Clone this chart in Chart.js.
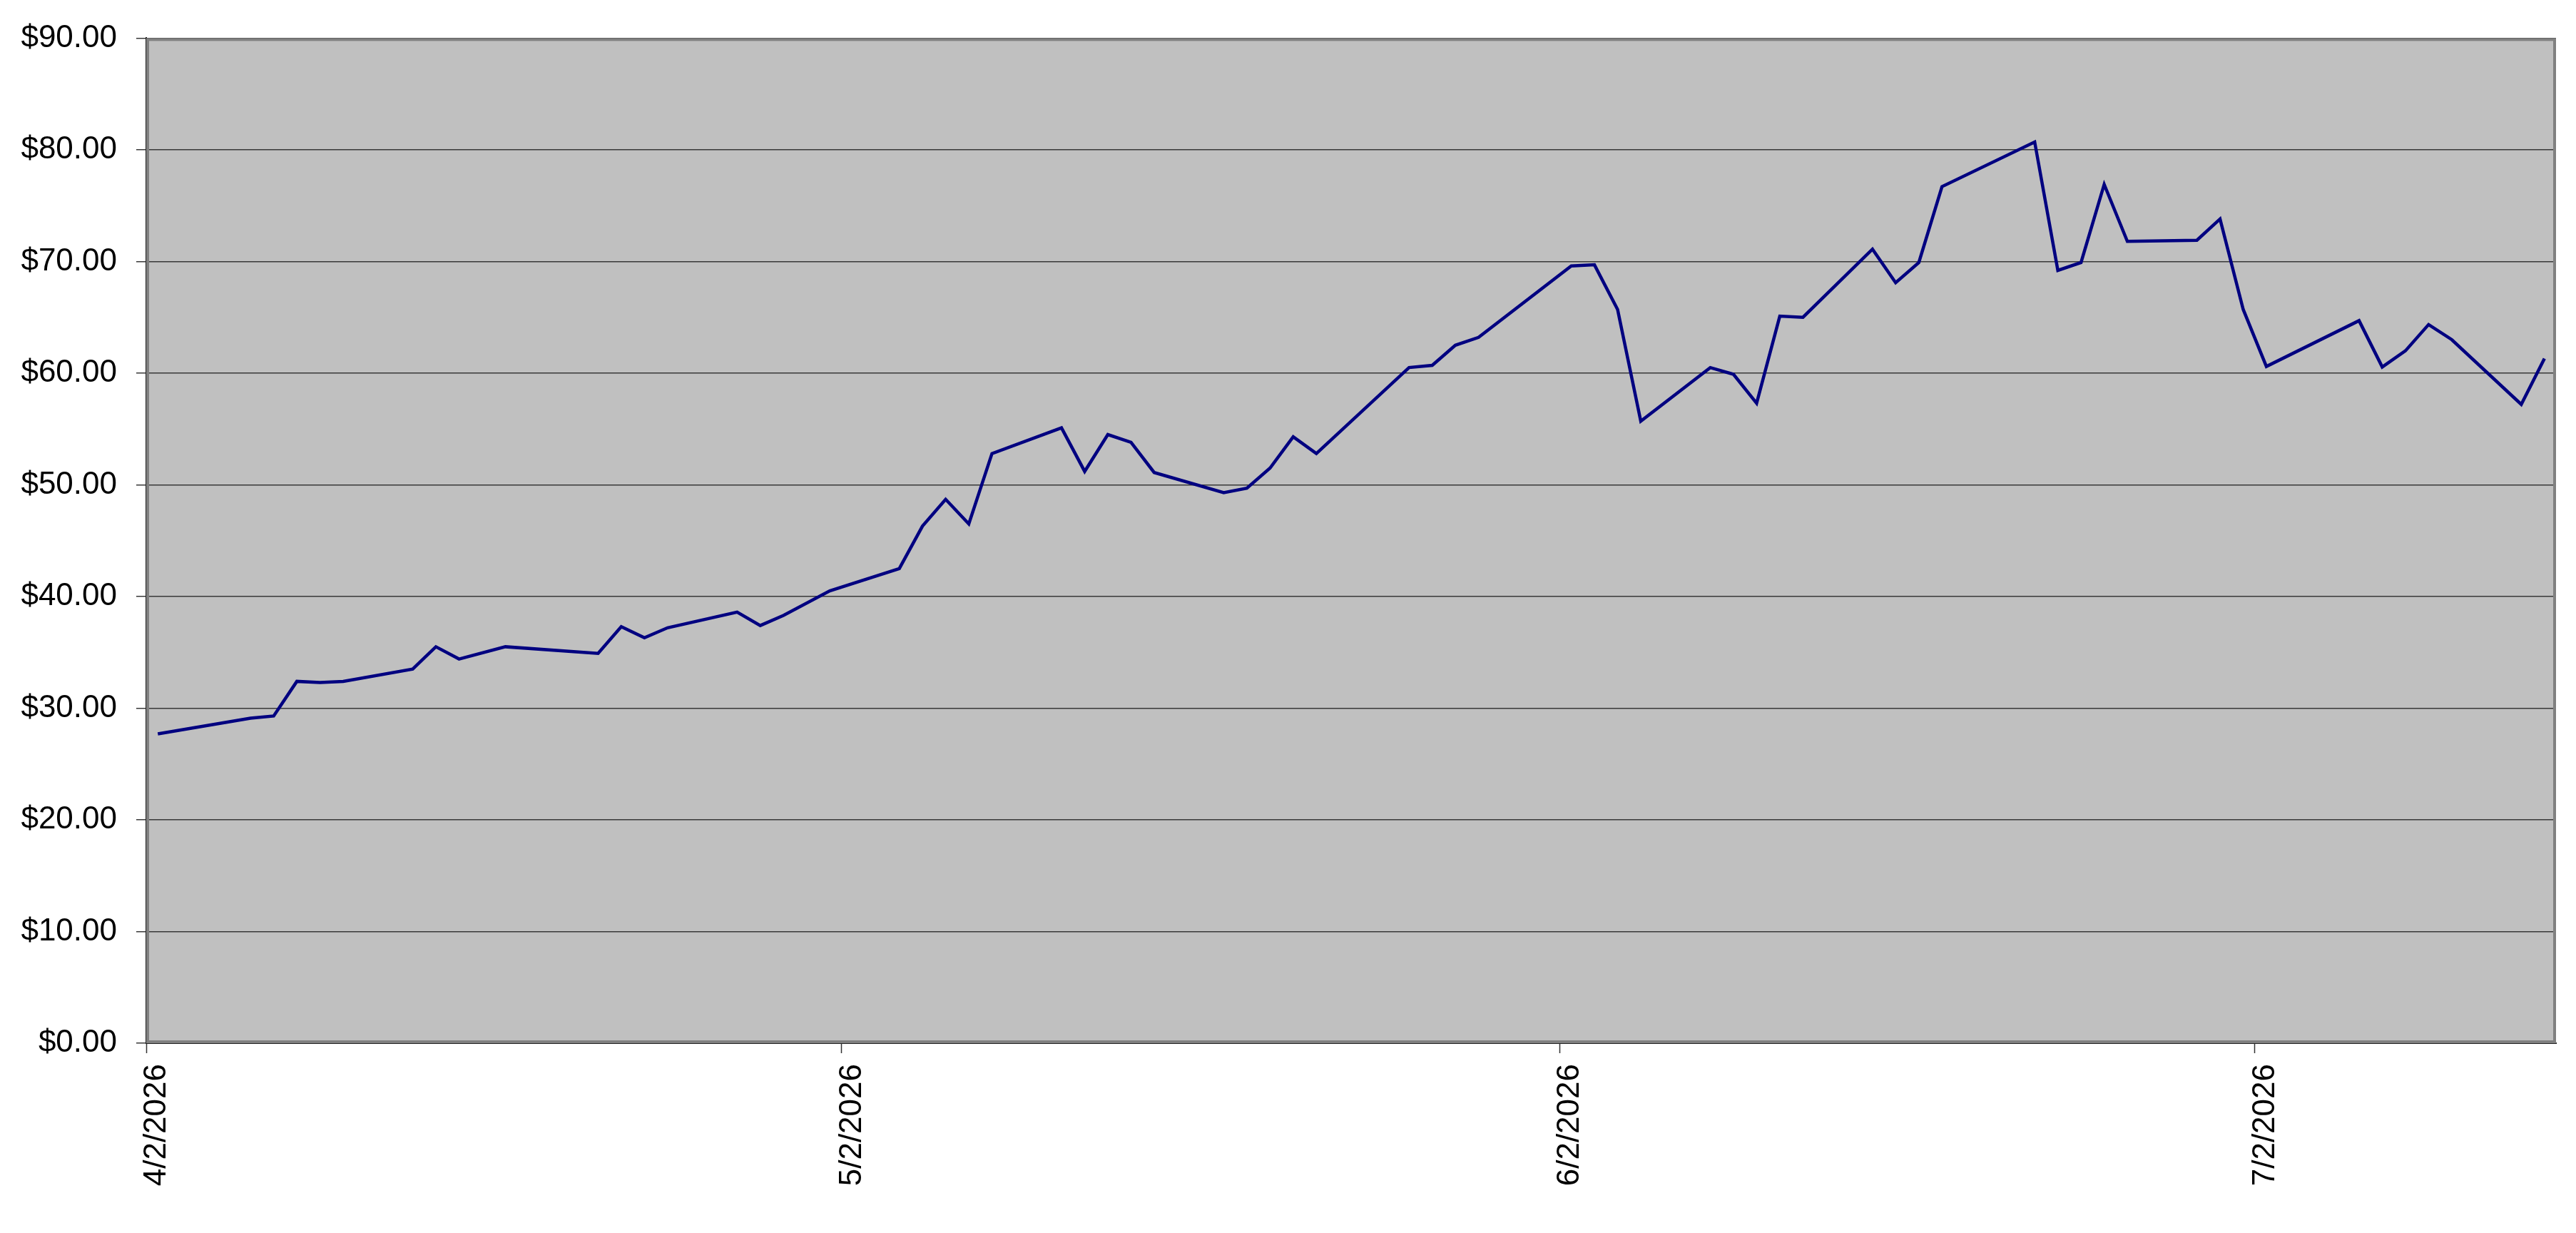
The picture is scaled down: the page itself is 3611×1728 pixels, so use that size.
<!DOCTYPE html>
<html>
<head>
<meta charset="utf-8">
<title>Price chart</title>
<script src="https://cdn.jsdelivr.net/npm/chart.js@4/dist/chart.umd.min.js"></script>
<style>
    html, body { margin: 0; padding: 0; background: #ffffff; }
    #wrap { width: 3611px; height: 1728px; }
</style>
</head>
<body>
<div id="wrap"><canvas id="priceChart" width="3611" height="1728"></canvas></div>
<script>
var myChart;

// trading days and closing prices
var dates = [
    '2026-04-02', '2026-04-06', '2026-04-07', '2026-04-08', '2026-04-09', '2026-04-10',
    '2026-04-13', '2026-04-14', '2026-04-15', '2026-04-17',
    '2026-04-21', '2026-04-22', '2026-04-23', '2026-04-24',
    '2026-04-27', '2026-04-28', '2026-04-29', '2026-05-01',
    '2026-05-04', '2026-05-05', '2026-05-06', '2026-05-07', '2026-05-08',
    '2026-05-11', '2026-05-12', '2026-05-13', '2026-05-14', '2026-05-15',
    '2026-05-18', '2026-05-19', '2026-05-20', '2026-05-21', '2026-05-22',
    '2026-05-26', '2026-05-27', '2026-05-28', '2026-05-29',
    '2026-06-02', '2026-06-03', '2026-06-04', '2026-06-05',
    '2026-06-08', '2026-06-09', '2026-06-10', '2026-06-11', '2026-06-12',
    '2026-06-15', '2026-06-16', '2026-06-17', '2026-06-18',
    '2026-06-22', '2026-06-23', '2026-06-24', '2026-06-25', '2026-06-26',
    '2026-06-29', '2026-06-30', '2026-07-01', '2026-07-02',
    '2026-07-06', '2026-07-07', '2026-07-08', '2026-07-09', '2026-07-10',
    '2026-07-13', '2026-07-14'
];
var prices = [
    27.7, 29.1, 29.3, 32.4, 32.3, 32.4,
    33.5, 35.5, 34.4, 35.5,
    34.9, 37.3, 36.3, 37.2,
    38.6, 37.4, 38.3, 40.5,
    42.5, 46.3, 48.7, 46.5, 52.8,
    55.1, 51.2, 54.5, 53.8, 51.1,
    49.3, 49.7, 51.5, 54.3, 52.8,
    60.5, 60.7, 62.5, 63.2,
    69.6, 69.7, 65.7, 55.7,
    60.5, 59.9, 57.3, 65.1, 65.0,
    71.1, 68.1, 69.9, 76.7,
    80.7, 69.2, 69.9, 76.9, 71.8,
    71.9, 73.8, 65.7, 60.6,
    64.7, 60.55, 62.0, 64.35, 63.0,
    57.2, 61.3
];

// date axis: start, end and labelled ticks
var axisStart = '2026-04-02';
var axisEnd = '2026-07-15';
var tickDates = ['2026-04-02', '2026-05-02', '2026-06-02', '2026-07-02'];
var tickLabels = ['4/2/2026', '5/2/2026', '6/2/2026', '7/2/2026'];

// price axis
var priceMin = 0;
var priceMax = 90;
var priceStep = 10;

function dayNumber(s) {
    var p = s.split('-');
    var start = axisStart.split('-');
    var a = Date.UTC(+p[0], +p[1] - 1, +p[2]);
    var b = Date.UTC(+start[0], +start[1] - 1, +start[2]);
    return Math.round((a - b) / 86400000);
}

// grey plot area with its frame
var plotFrame = {
    id: 'plotFrame',
    beforeDatasetsDraw: function (chart) {
        var a = chart.chartArea;
        var ctx = chart.ctx;
        ctx.save();
        ctx.strokeStyle = '#808080';
        ctx.lineWidth = 4;
        ctx.strokeRect(a.left + 2, a.top + 2, a.right - a.left - 4, a.bottom - a.top - 4);
        ctx.restore();
    },
    beforeDraw: function (chart) {
        var a = chart.chartArea;
        var ctx = chart.ctx;
        ctx.save();
        ctx.fillStyle = '#ffffff';
        ctx.fillRect(0, 0, chart.width, chart.height);
        ctx.fillStyle = '#c0c0c0';
        ctx.fillRect(a.left, a.top, a.right - a.left, a.bottom - a.top);
        ctx.restore();
    }
};

window.addEventListener('DOMContentLoaded', initializeChart);

function initializeChart() {
    var points = [];
    for (var i = 0; i < dates.length; i++) {
        // each day is drawn in the middle of its slot
        points.push({ x: dayNumber(dates[i]) + 0.5, y: prices[i] });
    }
    var tickDays = tickDates.map(dayNumber);

    var ctx = document.getElementById('priceChart').getContext('2d');
    myChart = new Chart(ctx, {
        type: 'line',
        data: {
            datasets: [{
                data: points,
                borderColor: '#000080',
                borderWidth: 4.5,
                pointRadius: 0,
                tension: 0,
                fill: false
            }]
        },
        options: {
            responsive: false,
            animation: false,
            events: [],
            layout: {
                padding: { top: 44, right: 28, left: 0, bottom: 0 }
            },
            plugins: {
                legend: { display: false },
                tooltip: { enabled: false }
            },
            scales: {
                x: {
                    type: 'linear',
                    min: 0,
                    max: dayNumber(axisEnd),
                    afterBuildTicks: function (scale) {
                        scale.ticks = tickDays.map(function (d) { return { value: d }; });
                    },
                    afterFit: function (scale) {
                        scale.height = 266;
                    },
                    grid: {
                        drawOnChartArea: false,
                        drawTicks: true,
                        tickLength: 14,
                        tickColor: '#333333',
                        tickWidth: 1.5
                    },
                    border: { display: true, color: '#222222', width: 2 },
                    ticks: {
                        autoSkip: false,
                        minRotation: 90,
                        maxRotation: 90,
                        padding: 15,
                        labelOffset: 15,
                        color: '#000000',
                        font: { family: 'Liberation Sans', size: 44 },
                        callback: function (value) {
                            var k = tickDays.indexOf(value);
                            return k >= 0 ? tickLabels[k] : '';
                        }
                    }
                },
                y: {
                    min: priceMin,
                    max: priceMax,
                    afterFit: function (scale) {
                        scale.width = 205;
                    },
                    grid: {
                        color: '#383838',
                        lineWidth: 1.5,
                        tickLength: 14
                    },
                    border: { display: true, color: '#222222', width: 2 },
                    ticks: {
                        stepSize: priceStep,
                        padding: 27,
                        color: '#000000',
                        font: { family: 'Liberation Sans', size: 44 },
                        callback: function (value) {
                            return '$' + value.toFixed(2);
                        }
                    }
                }
            }
        },
        plugins: [plotFrame]
    });
}
</script>
</body>
</html>
